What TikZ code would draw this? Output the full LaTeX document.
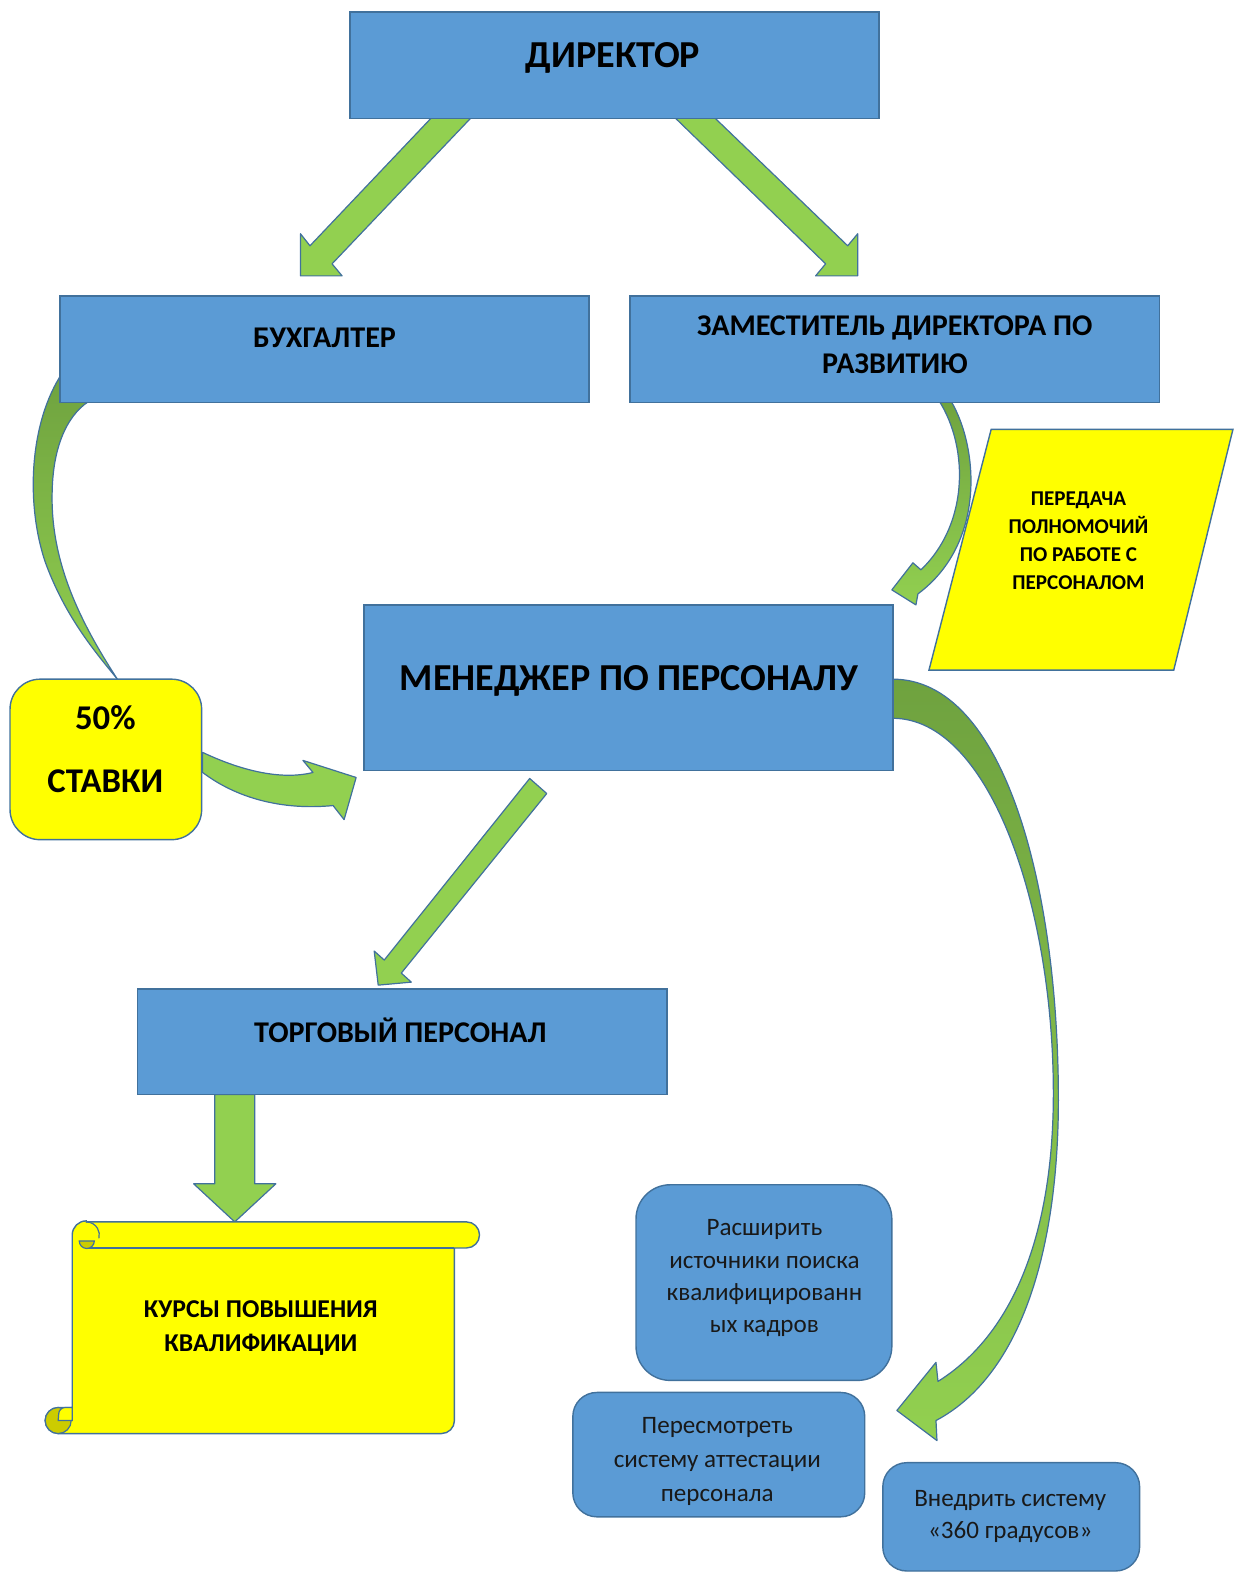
\documentclass[tikz,border=0pt]{standalone}
\usepackage{fontspec}
\setmainfont{Carlito}
\definecolor{boxblue}{HTML}{5B9BD5}
\definecolor{outl}{HTML}{41719C}
\definecolor{lgreen}{HTML}{92D050}
\definecolor{dgreen}{HTML}{6FA23F}
\definecolor{yel}{HTML}{FFFF00}
\definecolor{olive}{HTML}{CCCC00}
\begin{document}
\begin{tikzpicture}[x=0.5pt,y=-0.5pt,
  box/.style={draw=outl, fill=boxblue, line width=0.7pt, rectangle, inner sep=0pt},
  rbox/.style={box, rounded corners=#1},
  ybox/.style={draw=outl, fill=yel, line width=0.7pt, rectangle, rounded corners=#1, inner sep=0pt},
  arr/.style={draw=outl, fill=lgreen, line width=0.6pt, line join=round},
  garr/.style={draw=outl, line width=0.6pt, line join=round, top color=dgreen, bottom color=lgreen},
  bigT/.style={font=\bfseries\fontsize{19}{23}\selectfont, align=center},
  hdT/.style={font=\bfseries\fontsize{15}{19}\selectfont, align=center},
  parT/.style={font=\bfseries\fontsize{10.5}{13.8}\selectfont, align=center},
  regT/.style={font=\fontsize{12.5}{16}\selectfont, align=center, text=black!90}
]
\useasboundingbox (0,0) rectangle (1233,1568);

% ---------- arrows (drawn below boxes) ----------
% Director -> Accountant
\path[arr] (429.5,118) -- (469,118) -- (331,263) -- (341,275) -- (299.5,275)
  -- (299.5,233) -- (309,245) -- cycle;
% Director -> Deputy
\path[arr] (673.5,118) -- (713,118) -- (845,245) -- (855,233) -- (855,275)
  -- (813,275) -- (823,263) -- cycle;
% Accountant -> 50% (crescent)
\path[garr] (62,372) .. controls (30,420) and (25,500) .. (45,560)
  .. controls (65,615) and (95,650) .. (117,677)
  .. controls (80,620) and (50,560) .. (52,490)
  .. controls (53,440) and (70,410) .. (92,398) -- (92,372) -- cycle;
% Deputy -> Manager (curved)
\path[garr] (933,395) .. controls (965,440) and (968,520) .. (918,568)
  -- (910,561) -- (889,588) -- (913,603) -- (915,592)
  .. controls (985,540) and (975,440) .. (945,395) -- cycle;
% 50% -> Manager
\path[arr] (202,750) .. controls (240,768) and (280,778) .. (312,770)
  -- (302,758) -- (355,775) -- (343,817) -- (332,803)
  .. controls (280,808) and (235,795) .. (202,770) -- cycle;
% Manager -> Trade staff
\path[arr] (528,776) -- (545,791) -- (400,970) -- (410,979) -- (377,982)
  -- (373,948) -- (383,957) -- cycle;
% Trade staff -> courses
\path[arr] (214,1091) -- (214,1180) -- (193,1180) -- (234,1218) -- (275,1180)
  -- (254,1180) -- (254,1091) -- cycle;
% Manager -> measures (big curved)
\path[garr] (880,716) -- (890,716) .. controls (985,716) and (1050,900) .. (1050,1090)
  .. controls (1050,1230) and (1010,1330) .. (935,1377)
  -- (933,1358) -- (894,1406) -- (934,1436) -- (933,1416)
  .. controls (1020,1370) and (1056,1240) .. (1055,1090)
  .. controls (1054,880) and (1000,677) .. (890,677) -- (880,677) -- cycle;

% ---------- boxes ----------
\node[box, minimum width=263.5pt, minimum height=53pt] (dir) at (612.5,65) {};
\node[bigT] (dirT) at (611,58) {ДИРЕКТОР};

\node[box, minimum width=263.5pt, minimum height=53pt] (buh) at (323.5,348) {};
\node[hdT] (buhT) at (323.5,337) {БУХГАЛТЕР};

\node[box, minimum width=264pt, minimum height=53pt] (zam) at (892,348) {};
\node[hdT] (zamT) at (892,344) {ЗАМЕСТИТЕЛЬ ДИРЕКТОРА ПО\\РАЗВИТИЮ};

\path[draw=outl, fill=yel, line width=0.7pt] (988,428) -- (1229,428) -- (1170,668) -- (926,668) -- cycle;
\node[parT] (parT) at (1075,539) {ПЕРЕДАЧА\\ПОЛНОМОЧИЙ\\ПО РАБОТЕ С\\ПЕРСОНАЛОМ};

\node[box, minimum width=263.5pt, minimum height=82.5pt] (men) at (626.5,685.5) {};
\node[bigT] (menT) at (627,679) {МЕНЕДЖЕР ПО ПЕРСОНАЛУ};

\node[ybox=15pt, minimum width=95.5pt, minimum height=80pt] (st) at (105.5,757) {};
\node[font=\bfseries\fontsize{17.3}{31.5}\selectfont, align=center] (stT) at (105,747) {50\%\\СТАВКИ};

\node[box, minimum width=264pt, minimum height=52.5pt] (torg) at (401,1038.5) {};
\node[hdT] (torgT) at (399,1027) {ТОРГОВЫЙ ПЕРСОНАЛ};

% scroll
\path[draw=outl, fill=yel, line width=0.7pt] (86,1218) -- (465,1218)
  arc[start angle=-90, end angle=90, radius=13] -- (453,1244) -- (453,1416)
  arc[start angle=0, end angle=90, radius=13] -- (58,1429)
  arc[start angle=90, end angle=270, radius=13] -- (72,1403) -- (72,1231)
  arc[start angle=180, end angle=270, radius=14] -- cycle;
\draw[outl, line width=0.7pt] (86,1244) -- (453,1244);
\draw[outl, line width=0.6pt] (86,1218) arc[start angle=-90, end angle=15, radius=13];
\path[draw=outl, fill=olive, line width=0.6pt] (79,1237) arc[start angle=180, end angle=0, radius=7.5] -- cycle;
\path[draw=outl, fill=olive, line width=0.6pt] (58,1416) circle[radius=13];
\path[draw=outl, fill=yel, line width=0.6pt] (58,1416) -- (72,1416) -- (72,1403) -- (65,1403)
  arc[start angle=270, end angle=180, radius=6.5] -- cycle;
\node[font=\bfseries\fontsize{12.8}{17}\selectfont, align=center] (kursT) at (260,1324) {КУРСЫ ПОВЫШЕНИЯ\\КВАЛИФИКАЦИИ};

% measures
\node[rbox=17pt, minimum width=127.5pt, minimum height=97.5pt] (ras) at (761.5,1278.5) {};
\node[regT] (rasT) at (762,1274) {Расширить\\источники поиска\\квалифицированн\\ых кадров};

\node[rbox=12pt, minimum width=145.5pt, minimum height=62pt] (per) at (716.5,1450) {};
\node[regT, font=\fontsize{12.5}{16.8}\selectfont] (perT) at (715,1457) {Пересмотреть\\систему аттестации\\персонала};

\node[rbox=12pt, minimum width=128pt, minimum height=54pt] (vne) at (1008,1512) {};
\node[regT] (vneT) at (1007,1512) {Внедрить систему\\«360 градусов»};
\end{tikzpicture}
\end{document}
